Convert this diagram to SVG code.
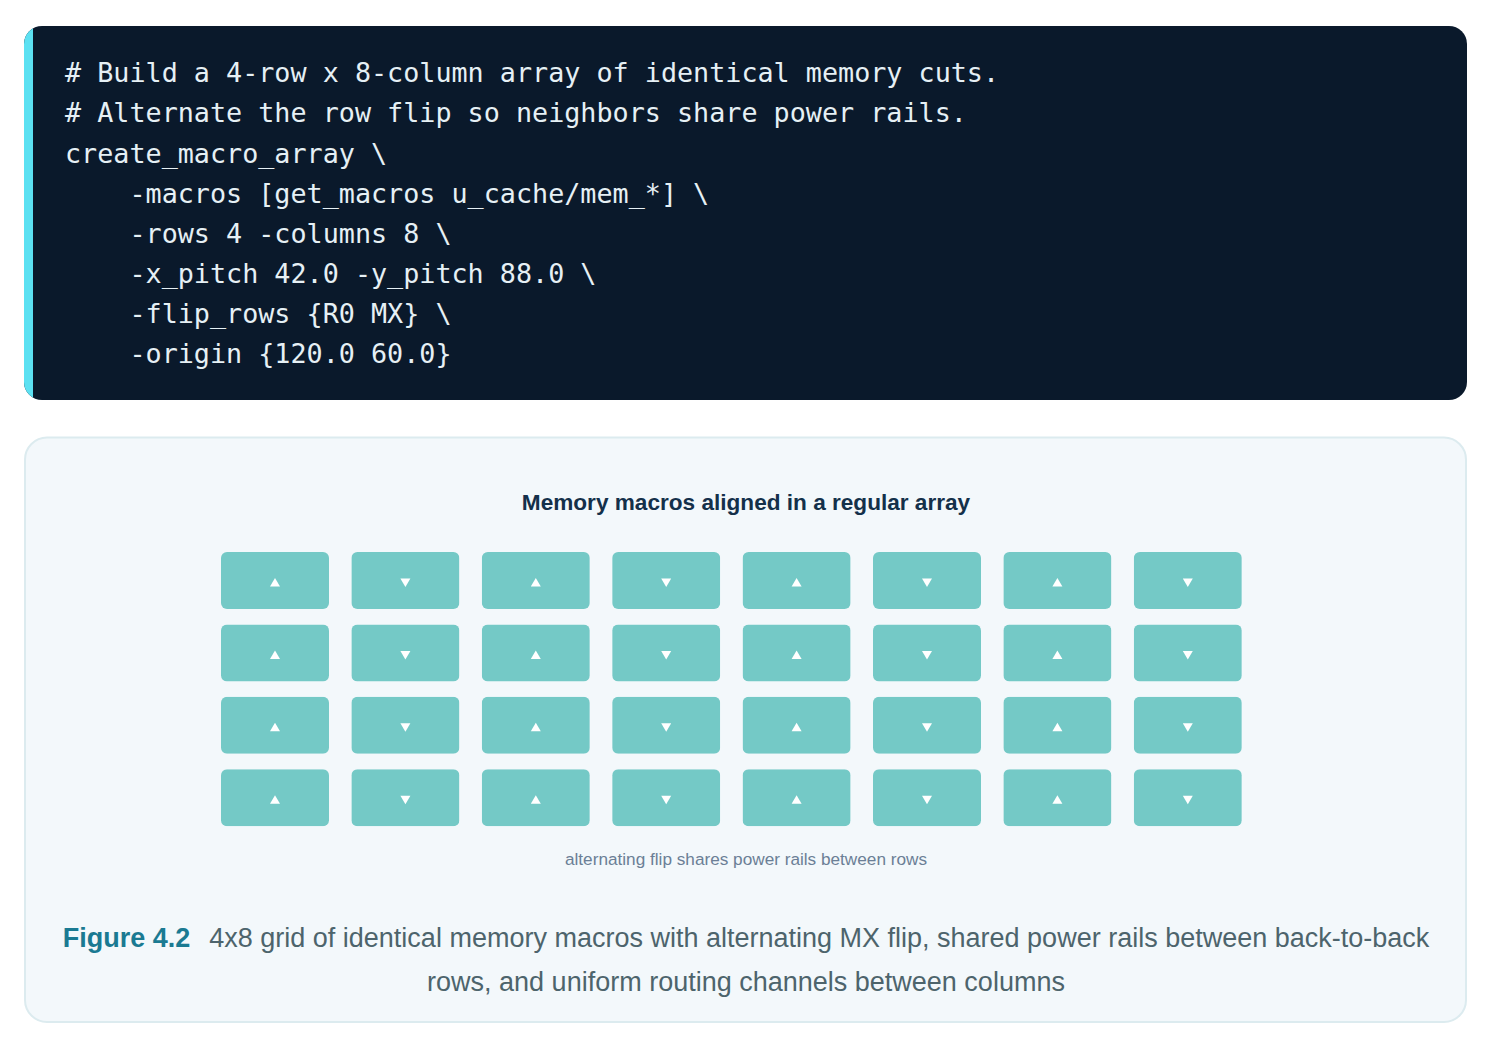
<svg xmlns="http://www.w3.org/2000/svg" width="1494" height="1050" viewBox="0 0 1494 1050">
<defs>
<style>
.code{font-family:"DejaVu Sans Mono",monospace;font-size:26.75px;fill:#e6f0f5;white-space:pre}
.m{fill:#74c9c6}
.tri{fill:#ffffff}
.title{font-family:"Liberation Sans",Arial,sans-serif;font-weight:bold;font-size:22.6px;fill:#14304a}
.note{font-family:"Liberation Sans",Arial,sans-serif;font-size:17.2px;fill:#6b7f96}
.cap{font-family:"Liberation Sans",Arial,sans-serif;font-size:27px;fill:#4d646c}
.capb{font-weight:bold;fill:#1a7a92}
</style>
<clipPath id="cb"><rect x="24" y="26" width="1443" height="374" rx="18"/></clipPath>
<symbol id="up" viewBox="0 0 108 57"><rect width="108" height="57" rx="6" class="m"/><path d="M54 26 L59 34.5 L49 34.5 Z" class="tri"/></symbol>
<symbol id="dn" viewBox="0 0 108 57"><rect width="108" height="57" rx="6" class="m"/><path d="M49 26.5 L59 26.5 L54 35 Z" class="tri"/></symbol>
</defs>
<rect width="1494" height="1050" fill="#ffffff"/>
<g id="code-block">
<g clip-path="url(#cb)">
<rect x="24" y="26" width="1443" height="374" fill="#0a192b"/>
<rect x="24" y="26" width="9" height="374" fill="#5ce1f2"/>
</g>
<text class="code" x="65" y="82"># Build a 4-row x 8-column array of identical memory cuts.</text>
<text class="code" x="65" y="122"># Alternate the row flip so neighbors share power rails.</text>
<text class="code" x="65" y="163">create_macro_array \</text>
<text class="code" x="65" y="203">    -macros [get_macros u_cache/mem_*] \</text>
<text class="code" x="65" y="243">    -rows 4 -columns 8 \</text>
<text class="code" x="65" y="283">    -x_pitch 42.0 -y_pitch 88.0 \</text>
<text class="code" x="65" y="323">    -flip_rows {R0 MX} \</text>
<text class="code" x="65" y="363">    -origin {120.0 60.0}</text>
</g>
<g id="figure-panel">
<rect x="25" y="437.5" width="1441" height="584.5" rx="22" fill="#f3f8fb" stroke="#dcebef" stroke-width="2"/>
<text class="title" x="746" y="510" text-anchor="middle">Memory macros aligned in a regular array</text>
</g>
<g id="macros">
<g id="row1">
<use href="#up" x="221" y="552" width="108" height="57"/>
<use href="#dn" x="351.4" y="552" width="108" height="57"/>
<use href="#up" x="481.8" y="552" width="108" height="57"/>
<use href="#dn" x="612.2" y="552" width="108" height="57"/>
<use href="#up" x="742.6" y="552" width="108" height="57"/>
<use href="#dn" x="873" y="552" width="108" height="57"/>
<use href="#up" x="1003.4" y="552" width="108" height="57"/>
<use href="#dn" x="1133.8" y="552" width="108" height="57"/>
</g>
<g id="row2">
<use href="#up" x="221" y="624.4" width="108" height="57"/>
<use href="#dn" x="351.4" y="624.4" width="108" height="57"/>
<use href="#up" x="481.8" y="624.4" width="108" height="57"/>
<use href="#dn" x="612.2" y="624.4" width="108" height="57"/>
<use href="#up" x="742.6" y="624.4" width="108" height="57"/>
<use href="#dn" x="873" y="624.4" width="108" height="57"/>
<use href="#up" x="1003.4" y="624.4" width="108" height="57"/>
<use href="#dn" x="1133.8" y="624.4" width="108" height="57"/>
</g>
<g id="row3">
<use href="#up" x="221" y="696.8" width="108" height="57"/>
<use href="#dn" x="351.4" y="696.8" width="108" height="57"/>
<use href="#up" x="481.8" y="696.8" width="108" height="57"/>
<use href="#dn" x="612.2" y="696.8" width="108" height="57"/>
<use href="#up" x="742.6" y="696.8" width="108" height="57"/>
<use href="#dn" x="873" y="696.8" width="108" height="57"/>
<use href="#up" x="1003.4" y="696.8" width="108" height="57"/>
<use href="#dn" x="1133.8" y="696.8" width="108" height="57"/>
</g>
<g id="row4">
<use href="#up" x="221" y="769.2" width="108" height="57"/>
<use href="#dn" x="351.4" y="769.2" width="108" height="57"/>
<use href="#up" x="481.8" y="769.2" width="108" height="57"/>
<use href="#dn" x="612.2" y="769.2" width="108" height="57"/>
<use href="#up" x="742.6" y="769.2" width="108" height="57"/>
<use href="#dn" x="873" y="769.2" width="108" height="57"/>
<use href="#up" x="1003.4" y="769.2" width="108" height="57"/>
<use href="#dn" x="1133.8" y="769.2" width="108" height="57"/>
</g>
</g>
<g id="connectors"></g>
<g id="caption">
<text class="note" x="746" y="865" text-anchor="middle">alternating flip shares power rails between rows</text>
<text class="cap" x="746" y="947" text-anchor="middle"><tspan class="capb">Figure 4.2</tspan><tspan dx="19">4x8 grid of identical memory macros with alternating MX flip, shared power rails between back-to-back</tspan></text>
<text class="cap" x="746" y="991" text-anchor="middle">rows, and uniform routing channels between columns</text>
</g>
</svg>
